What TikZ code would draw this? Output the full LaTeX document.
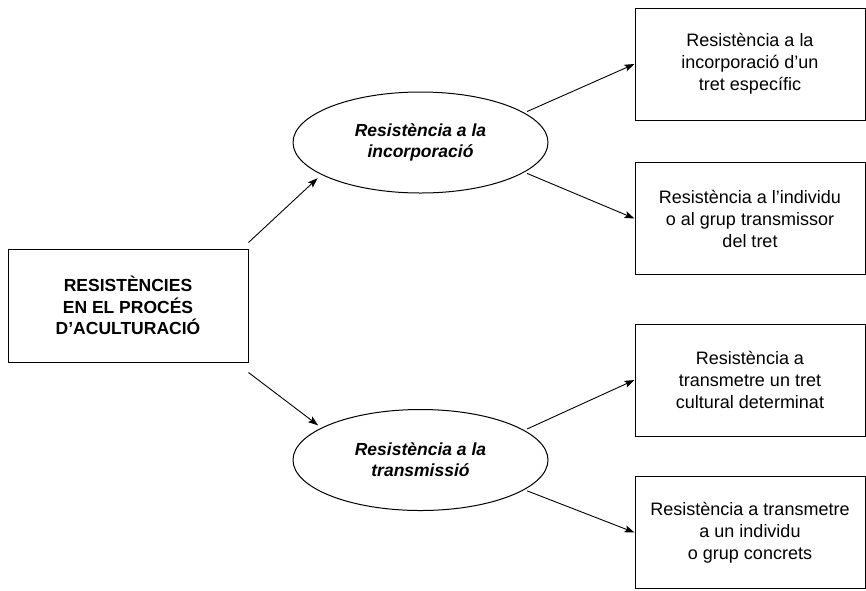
\documentclass[tikz,border=0pt]{standalone}
\usepackage{fontspec}
\setmainfont{Liberation Sans}
\usetikzlibrary{arrows.meta,shapes.geometric}

\begin{document}
\begin{tikzpicture}[x=1pt,y=-1pt]
\tikzstyle{every node}+=[inner sep=0pt]
\tikzstyle{caixa}=[draw=black, line width=1pt, rectangle, align=center]
\tikzstyle{resist}=[draw=black, line width=1pt, ellipse, minimum width=255pt, minimum height=101pt, align=center, font=\fontsize{17.5}{21}\selectfont\bfseries\itshape]
\tikzstyle{tret}=[caixa, minimum width=230pt, minimum height=112pt, font=\fontsize{18}{22}\selectfont]
\tikzstyle{fletxa}=[black, line width=0.9pt, -{Stealth[length=10pt,width=7pt,inset=2pt]}]
\useasboundingbox (0,0) rectangle (866,590);
\node [caixa, minimum width=240pt, minimum height=113pt, font=\fontsize{17.5}{21.5}\selectfont\bfseries] (proces) at (128,305.5) {RESISTÈNCIES\\EN EL PROCÉS\\D'ACULTURACIÓ};
\node [resist] (incorporacio) at (420.5,142.5) {Resistència a la\\incorporació};
\node [resist] (transmissio) at (420.5,460) {Resistència a la\\transmissió};
\node [tret] (especific) at (750,64) {Resistència a la\\incorporació d'un\\tret específic};
\node [tret] (transmissor) at (750,218.5) {Resistència a l'individu\\o al grup transmissor\\del tret};
\node [tret] (determinat) at (750,380) {Resistència a\\transmetre un tret\\cultural determinat};
\node [tret] (concrets) at (750,532.5) {Resistència a transmetre\\a un individu\\o grup concrets};
\draw [fletxa, shorten >=5pt] ([yshift=6pt]proces.north east) -- (incorporacio.198);
\draw [fletxa, shorten >=4pt] ([yshift=-10pt]proces.south east) -- (transmissio.162);
\draw [fletxa, shorten <=3pt] (incorporacio.16) -- (especific.west);
\draw [fletxa, shorten <=3pt] (incorporacio.-16) -- (transmissor.west);
\draw [fletxa, shorten <=3pt] (transmissio.16) -- (determinat.west);
\draw [fletxa, shorten <=3pt] (transmissio.-16) -- (concrets.west);
\end{tikzpicture}
\end{document}
